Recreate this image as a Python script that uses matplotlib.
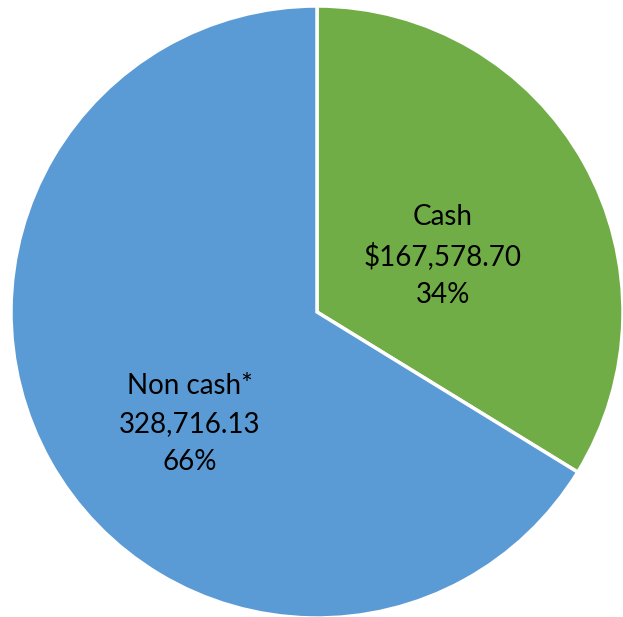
import matplotlib
matplotlib.use("Agg")
import matplotlib.pyplot as plt

# data
categories = ["Cash", "Non cash*"]
values = [167578.70, 328716.13]
value_text = ["$167,578.70", "328,716.13"]
colors = ["#70AD47", "#5B9BD5"]

plt.rcParams["font.family"] = ["Lato", "DejaVu Sans"]

fig = plt.figure(figsize=(6.23, 6.17), dpi=100)
ax = fig.add_axes([0, 0, 1, 1])

# pie in pixel-like data units
cx, cy, r = 317, 305, 306
wedges, _ = ax.pie(values, colors=colors, startangle=90, counterclock=False,
                   center=(cx, cy), radius=r,
                   wedgeprops=dict(edgecolor="white", linewidth=2.5))
ax.set_xlim(0, 623)
ax.set_ylim(0, 617)
ax.set_aspect("equal")
ax.axis("off")

# labels (placed like Excel did)
total = sum(values)
label_pos = [(cx + 126, cy + 56), (cx - 127, cy - 112)]
for cat, vt, v, (x, y) in zip(categories, value_text, values, label_pos):
    pct = round(100 * v / total)
    ax.text(x, y, f"{cat}\n{vt}\n{pct}%", ha="center", va="center",
            fontsize=20, linespacing=1.55, color="#000000")

fig.savefig("out.png", dpi=100)
